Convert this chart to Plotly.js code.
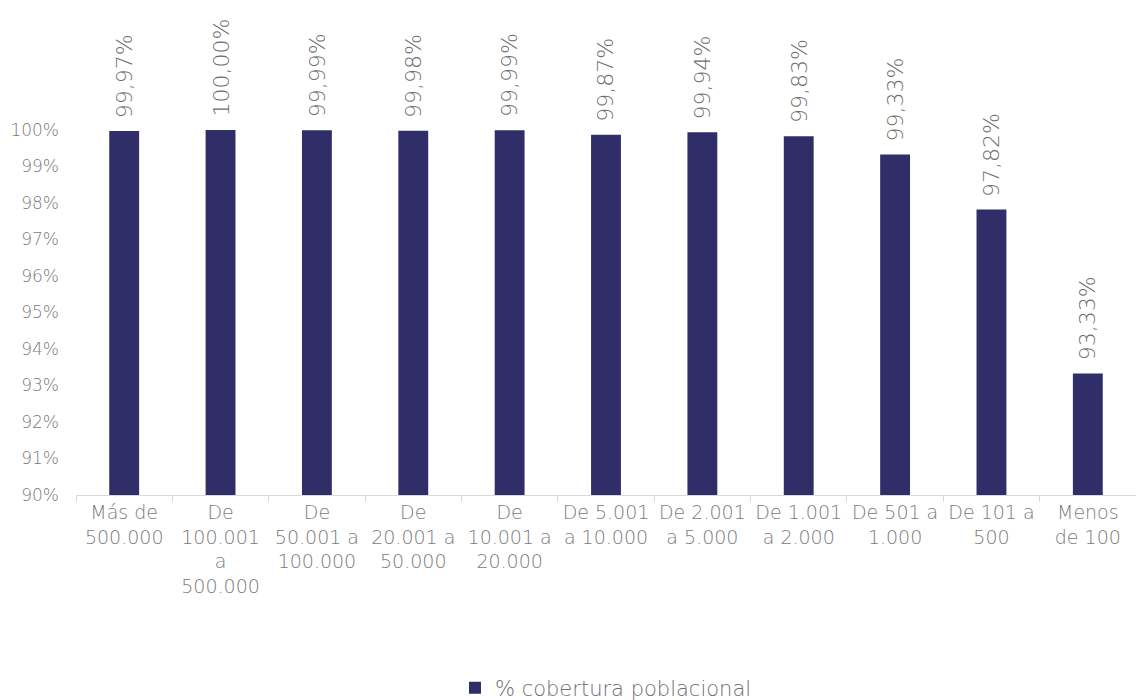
<!DOCTYPE html>
<html>
<head>
<meta charset="utf-8">
<script src="https://cdn.plot.ly/plotly-3.0.1.min.js"></script>
<style>html,body{margin:0;padding:0;background:#fff;}#chart{width:1136px;height:700px;}</style>
</head>
<body>
<div id="chart"></div>
<script>
const categories = [
  "Más de<br>500.000",
  "De<br>100.001<br>a<br>500.000",
  "De<br>50.001 a<br>100.000",
  "De<br>20.001 a<br>50.000",
  "De<br>10.001 a<br>20.000",
  "De 5.001<br>a 10.000",
  "De 2.001<br>a 5.000",
  "De 1.001<br>a 2.000",
  "De 501 a<br>1.000",
  "De 101 a<br>500",
  "Menos<br>de 100"
];
const coverage = [99.97, 100.00, 99.99, 99.98, 99.99, 99.87, 99.94, 99.83, 99.33, 97.82, 93.33];
const seriesName = "% cobertura poblacional";
const yTicks = [90, 91, 92, 93, 94, 95, 96, 97, 98, 99, 100];

const fontFam = "DejaVu Sans, sans-serif";
const trace = {
  type: "bar",
  x: categories,
  y: coverage,
  name: seriesName,
  marker: {color: "#2f2e68", line: {color: "#2f2e68", width: 0}},
  width: 0.31,
  hoverinfo: "skip"
};
const labels = categories.map((c, i) => ({
  x: c, y: coverage[i], xref: "x", yref: "y",
  text: coverage[i].toFixed(2).replace(".", ",") + "%",
  showarrow: false, textangle: -90,
  xanchor: "center", yanchor: "bottom", yshift: 11,
  font: {family: fontFam, size: 22, color: "#6e6e6e", weight: 300}
}));
const layout = {
  width: 1136, height: 700,
  margin: {l: 76, r: 0, t: 130, b: 205},
  separators: ",.",
  paper_bgcolor: "#fff", plot_bgcolor: "#fff",
  font: {family: fontFam, color: "#767676", size: 18, weight: 300},
  showlegend: true,
  legend: {
    orientation: "h", x: 0.5, xanchor: "center",
    yref: "container", y: 0.017, yanchor: "middle",
    font: {family: fontFam, size: 21, color: "#6e6e6e", weight: 300},
    itemwidth: 30
  },
  annotations: labels,
  xaxis: {
    type: "category",
    showline: true, linecolor: "#d9d9d9", linewidth: 1,
    ticks: "outside", tickson: "boundaries", ticklen: 6, tickcolor: "#d9d9d9",
    tickangle: 0,
    tickfont: {family: fontFam, size: 19, color: "#7a7a7a", weight: 300},
    showgrid: false, zeroline: false, fixedrange: true
  },
  yaxis: {
    range: [90, 100],
    tickvals: yTicks,
    ticktext: yTicks.map(v => v + "%"),
    showgrid: false, zeroline: false, showline: false,
    ticks: "", ticklabelstandoff: 16,
    tickfont: {family: fontFam, size: 17, color: "#7a7a7a", weight: 300},
    fixedrange: true
  },
  bargap: 0.69
};
Plotly.newPlot("chart", [trace], layout, {displayModeBar: false, staticPlot: true});
</script>
</body>
</html>
